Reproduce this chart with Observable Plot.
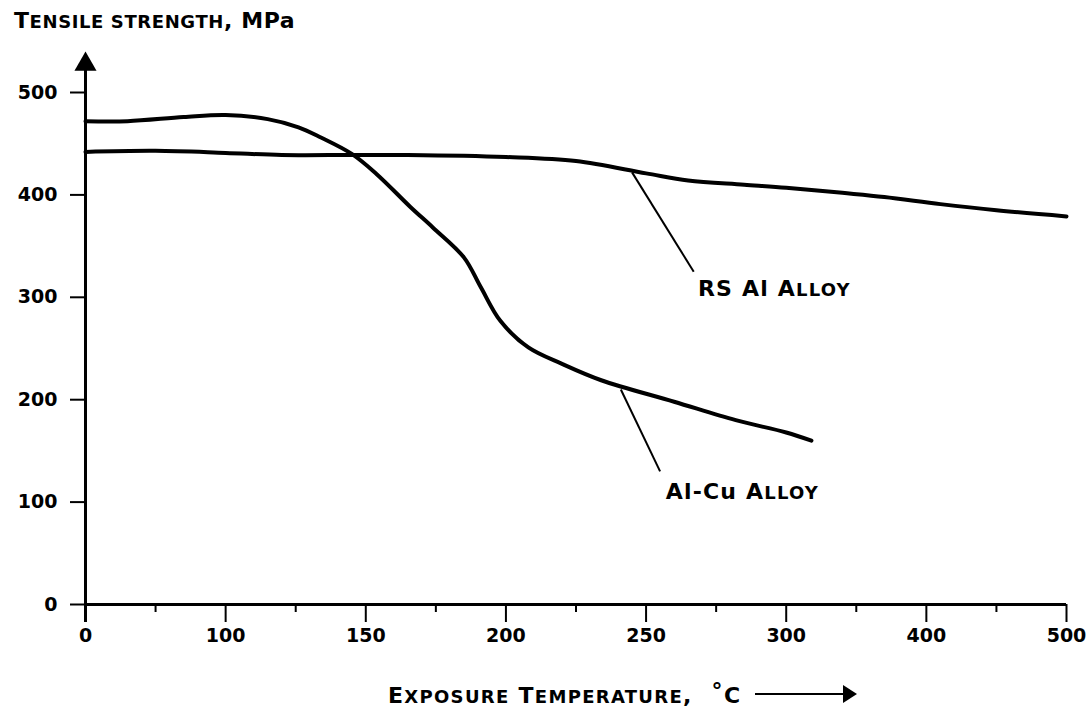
<!DOCTYPE html>
<html><head><meta charset="utf-8">
<script src="https://cdn.jsdelivr.net/npm/d3@7"></script>
<script src="https://cdn.jsdelivr.net/npm/@observablehq/plot@0.6"></script>
<style>
body{margin:0;background:#fff;}
#wrap{width:1092px;height:715px;position:relative;font-family:"DejaVu Sans",sans-serif;font-weight:bold;color:#000;overflow:hidden;}
#title{height:48px;box-sizing:border-box;padding:10px 0 0 14px;font-size:22px;line-height:22px;white-space:nowrap;letter-spacing:0.6px;}
#chart{height:612px;}
#xlabel{height:55px;box-sizing:border-box;padding:20px 0 0 388px;font-size:22px;line-height:22px;white-space:nowrap;letter-spacing:1.3px;}
.sc{font-size:18px;}
.deg{font-size:22px;vertical-align:5px;margin-left:10px;}
#xlabel svg{vertical-align:-2px;margin-left:14px;}
</style></head><body>
<div id="wrap">
  <div id="title">T<span class="sc">ENSILE STRENGTH</span>, MPa</div>
  <div id="chart"></div>
  <div id="xlabel">E<span class="sc">XPOSURE</span> T<span class="sc">EMPERATURE</span>, <span class="deg">°</span>C<svg width="104" height="22" viewBox="0 0 104 22"><line x1="0" y1="11" x2="90" y2="11" stroke="black" stroke-width="2"/><path d="M88,2 L102,11 L88,20 Z" fill="black"/></svg></div>
</div>
<script>
// ---- data ----
const tempTicks = [0, 100, 150, 200, 250, 300, 400, 500];
const minorTicks = [50, 125, 175, 225, 275, 350, 450];
const strengthTicks = [0, 100, 200, 300, 400, 500];

const rsTemp     = [0,   50,  100, 120, 145, 165, 200, 225, 250, 265, 285, 300, 340, 370, 410, 450, 500];
const rsStrength = [442, 443, 441, 439, 439, 439, 437, 433, 421, 414, 410, 407, 402, 398, 391, 385, 379];

const cuTemp     = [0,   30,  70,  100, 115, 126, 134, 145, 154, 166, 174, 185, 191, 198, 208, 220, 234, 260, 282, 300, 318];
const cuStrength = [472, 472, 476, 478, 474, 466, 456, 440, 420, 388, 368, 339, 310, 277, 251, 235, 219, 198, 180, 168, 160];

const labelText  = ["RS Al Alloy", "Al-Cu Alloy"];
const labelTemp  = [268.5, 257];
const labelValue = [308, 110];
const leaderTemp1 = [245, 241];
const leaderValue1 = [422, 210];
const leaderTemp2 = [267, 255];
const leaderValue2 = [325, 130];

// ---- build tables ----
const rs = rsTemp.map((t, i) => ({t, s: rsStrength[i]}));
const cu = cuTemp.map((t, i) => ({t, s: cuStrength[i]}));
const labels = labelText.map((text, i) => ({text, t: labelTemp[i], s: labelValue[i]}));
const leaders = leaderTemp1.map((t1, i) => ({t1, s1: leaderValue1[i], t2: leaderTemp2[i], s2: leaderValue2[i]}));

const W = 1092, H = 612, ML = 85, MR = 26, MT = 44, MB = 56;
const xRange = tempTicks.map((_, i) => ML + i * (W - ML - MR) / (tempTicks.length - 1));

const chart = Plot.plot({
  width: W, height: H,
  marginLeft: ML, marginRight: MR, marginTop: MT, marginBottom: MB,
  style: {fontFamily: "DejaVu Sans, sans-serif", fontWeight: "bold", fontSize: "19px", color: "black", background: "white", overflow: "visible"},
  x: {type: "linear", domain: tempTicks, range: xRange},
  y: {domain: [0, 500]},
  marks: [
    Plot.axisY(strengthTicks, {tickSize: 15, tickPadding: 13, strokeWidth: 2, label: null, fontSize: 19}),
    Plot.axisX(tempTicks, {tickSize: 18, tickPadding: 6, strokeWidth: 2, label: null, fontSize: 19}),
    Plot.ruleX(minorTicks, {x: d => d, y1: 0, y2: 0, insetBottom: -8, strokeWidth: 2}),
    Plot.ruleY([0], {x1: 0, x2: 500, strokeWidth: 3}),
    Plot.ruleX([0], {x: d => d, y1: -17.5, y2: 522, strokeWidth: 3}),
    Plot.dot([0], {x: d => d, y: () => 527.5, symbol: "triangle", r: 8.2, fill: "black", stroke: null}),
    Plot.line(rs, {x: "t", y: "s", curve: "catmull-rom", strokeWidth: 4, stroke: "black"}),
    Plot.line(cu, {x: "t", y: "s", curve: "catmull-rom", strokeWidth: 4, stroke: "black"}),
    Plot.link(leaders, {x1: "t1", y1: "s1", x2: "t2", y2: "s2", strokeWidth: 2, stroke: "black"}),
    Plot.text(labels, {x: "t", y: "s", text: "text", textAnchor: "start", lineAnchor: "middle", fontSize: 22})
  ]
});
document.getElementById("chart").appendChild(chart);

// small caps for the word "Alloy" in curve labels
const ns = "http://www.w3.org/2000/svg";
chart.querySelectorAll("text").forEach(t => {
  if (!labelText.includes(t.textContent)) return;
  const words = t.textContent.split(" ");
  const last = words.pop();
  while (t.firstChild) t.removeChild(t.firstChild);
  const a = document.createElementNS(ns, "tspan");
  a.textContent = words.join(" ") + " " + last[0];
  t.appendChild(a);
  const b = document.createElementNS(ns, "tspan");
  b.textContent = last.slice(1).toUpperCase();
  b.setAttribute("font-size", "18");
  t.appendChild(b);
  t.setAttribute("letter-spacing", "1.2");
});
</script>
</body></html>
